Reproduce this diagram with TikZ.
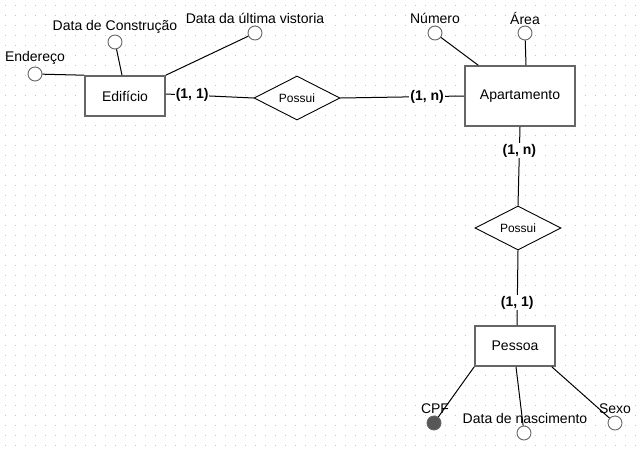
\documentclass[tikz,border=0pt]{standalone}
\usepackage{fontspec}
\setmainfont{Liberation Sans}
\usetikzlibrary{shapes.geometric}
\definecolor{borda}{HTML}{666666}
\definecolor{ponto}{HTML}{C4C4C4}
\tikzset{
  entidade/.style={draw=borda,line width=1.6pt,fill=white,minimum width=#1,minimum height=40pt,font=\fontsize{14}{16}\selectfont},
  entidade/.default=80pt,
  relac/.style={diamond,draw,line width=0.9pt,fill=white,aspect=1.95,minimum width=86pt,minimum height=44pt,inner sep=0pt,font=\fontsize{12}{14}\selectfont},
  atrib/.style={circle,draw=borda,line width=0.9pt,fill=white,minimum size=14pt,inner sep=0pt},
  chave/.style={atrib,fill=borda!85!black},
  rotulo/.style={font=\fontsize{14}{16}\selectfont,inner sep=0pt},
  card/.style={font=\fontsize{14}{16}\selectfont\bfseries,fill=white,inner sep=1pt},
  liga/.style={line width=1pt}
}
\begin{document}
\begin{tikzpicture}[x=1pt,y=-1pt]
\useasboundingbox (0,0) rectangle (639,450);
% grade de pontos
\foreach \i in {0,...,63}
  \foreach \j in {0,...,44}
    \fill[ponto] (5+10*\i-0.5,5+10*\j-0.5) rectangle ++(1,1);
% entidades
\node[entidade] (edif) at (125,96) {Edifício};
\node[entidade=110pt,minimum height=60pt] (apto) at (520,96) {Apartamento};
\node[entidade] (pessoa) at (515,346) {Pessoa};
% relacionamentos
\node[relac] (poss1) at (297,98) {Possui};
\node[relac] (poss2) at (518,228) {Possui};
% atributos de Edifício
\node[atrib] (end) at (35,74) {};
\node[rotulo] at (35,58) {Endereço};
\node[atrib] (dcons) at (115,42) {};
\node[rotulo] at (115,27) {Data de Construção};
\node[atrib] (dvist) at (255,33) {};
\node[rotulo] at (255,18) {Data da última vistoria};
% atributos de Apartamento
\node[atrib] (num) at (435,33) {};
\node[rotulo] at (435,18) {Número};
\node[atrib] (area) at (525,33) {};
\node[rotulo] at (525,18) {Área};
% atributos de Pessoa
\node[chave] (cpf) at (434,423) {};
\node[atrib] (dnasc) at (524,433) {};
\node[atrib] (sexo) at (615,423) {};
\draw[liga] (end) -- (edif.north west);
\draw[liga] (dcons) -- ([xshift=-3pt]edif.north);
\draw[liga] (dvist) -- (edif.north east);
\draw[liga] (num) -- ([xshift=14pt]apto.north west);
\draw[liga] (area) -- ([xshift=6pt]apto.north);
\draw[liga] (cpf) -- (pessoa.south west);
\draw[liga] (dnasc) -- ([xshift=1pt]pessoa.south);
\draw[liga] (sexo) -- ([xshift=-4pt]pessoa.south east);
\node[rotulo] at (435,409) {CPF};
\node[rotulo] at (525,418) {Data de nascimento};
\node[rotulo] at (615,409) {Sexo};
% ligações com cardinalidade
\draw[liga] ([yshift=2pt]edif.east) -- (poss1.west) node[card,pos=0.3] {(1, 1)};
\draw[liga] (poss1.east) -- (apto.west) node[card,pos=0.7] {(1, n)};
\draw[liga] (apto.south) -- (poss2.north) node[card,pos=0.3] {(1, n)};
\draw[liga] (poss2.south) -- ([xshift=2pt]pessoa.north) node[card,pos=0.7] {(1, 1)};
\end{tikzpicture}
\end{document}
